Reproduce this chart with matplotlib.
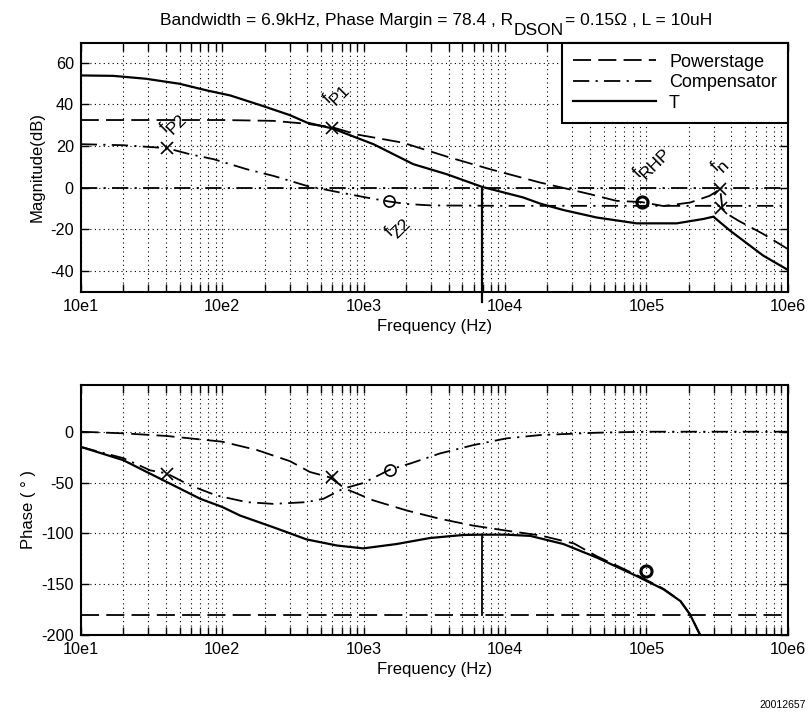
import numpy as np
import matplotlib
matplotlib.use("Agg")
import matplotlib.pyplot as plt
from matplotlib.ticker import LogLocator, NullFormatter
from matplotlib.transforms import offset_copy

plt.rcParams["font.family"] = ["Liberation Sans", "DejaVu Sans"]
plt.rcParams["axes.unicode_minus"] = False

# ---- magnitude (dB) ----
t_mag_freq = [10, 17, 29, 50, 78, 114, 185, 300, 400, 600, 1175, 2250, 3870, 6900,
              13500, 17700, 25900, 44600, 85400, 164000, 253000, 298000, 391000, 671000, 1000000]
t_mag = [53.8, 53.6, 52.2, 49.8, 46.6, 44.2, 39.6, 34.8, 31.1, 28.4, 20.8, 11.2, 6.4, 0.3,
         -4.8, -7.7, -10.8, -14.4, -17.2, -17.2, -15.1, -14.0, -20.7, -32.7, -39.5]

ps_mag_freq = [10, 100, 230, 396, 611, 890, 1900, 4070, 7850, 17700, 28300, 40000, 61500,
               92700, 132000, 204000, 280000, 333000, 345000, 391000, 450000, 671000, 1000000]
ps_mag = [32.4, 32.4, 32.0, 30.6, 28.8, 25.5, 21.5, 14.4, 8.8, 2.4, -0.8, -3.2, -6.4,
          -7.0, -8.9, -7.2, -4.0, -0.8, -10.0, -13.5, -16.0, -22.3, -29.5]

comp_mag_freq = [10, 20, 40.6, 59, 87, 149, 230, 302, 396, 682, 1047, 1510, 2020, 3000,
                 10000, 100000, 1000000]
comp_mag = [20.8, 20.3, 18.9, 16.0, 13.6, 8.8, 5.6, 3.2, 0.8, -2.4, -4.8, -6.7, -7.9, -8.6,
            -8.8, -8.8, -8.8]

# ---- phase (deg) ----
t_ph_freq = [10, 20, 40.6, 70, 100, 134, 230, 302, 396, 650, 995, 1715, 2950, 5080, 6900,
             10200, 15100, 25900, 44600, 85400, 132000, 174000, 204000, 240000]
t_ph = [-14.9, -28, -49.5, -66, -74, -82.5, -94, -100, -106, -112, -114.8, -110.5, -104.6,
        -101.6, -101.3, -101.3, -102.5, -110.5, -123.8, -142, -155, -166.6, -180, -200]

ps_ph_freq = [10, 20, 40.6, 100, 176, 302, 417, 579, 741, 1175, 2020, 3470, 5970, 10200,
              17700, 30800, 44600, 85400, 132000, 174000, 204000, 240000]
ps_ph = [0, -1.6, -4.2, -9.8, -18, -29, -39.6, -45, -56, -67.6, -77.5, -85.7, -92.4, -97.3,
         -102, -110, -122.5, -141, -154.5, -166.3, -179.8, -199.8]

comp_ph_freq = [10, 20, 31, 40.6, 59, 91, 149, 230, 396, 520, 720, 995, 1540, 2140, 3470,
                5970, 10200, 17700, 44600, 100000, 1000000]
comp_ph = [-15, -26, -38, -41, -52.7, -62.7, -69.3, -71, -69.3, -66, -56, -50.5, -37.2,
           -31.3, -21.4, -13.2, -6.6, -3.3, -1, 0, 0]

crossover = 6900
t_ph_cross = -101.3

# markers
mag_x_pts = [(40.6, 18.9), (600, 28.8), (333000, -0.6), (340000, -10.0)]
mag_o_pts = [(1510, -6.7), (93000, -6.8)]
ph_x_pts = [(40.6, -42), (600, -45)]
ph_o_pts = [(1540, -37.2), (100000, -137)]

mag_labels = [(43.5, 31.9, "P2"), (628, 45.8, "P1"), (1700, -18.3, "Z2"),
              (106000, 12.7, "RHP"), (321000, 11.3, "n")]

dec_ticks = [1e1, 1e2, 1e3, 1e4, 1e5, 1e6]
dec_labels = ["10e1", "10e2", "10e3", "10e4", "10e5", "10e6"]

DASH = (0, (10, 4))
DASHDOT = (0, (9, 3.5, 1.2, 3.5))

fig = plt.figure(figsize=(8.09, 7.17), dpi=100)
ax1 = fig.add_axes([0.0998, 0.5932, 0.8739, 0.3472])
ax2 = fig.add_axes([0.0998, 0.1144, 0.8739, 0.3487])
renderer = fig.canvas.get_renderer()


def text_width_pt(s, fs):
    t = fig.text(0, 0, s, fontsize=fs)
    w = t.get_window_extent(renderer).width * 72 / fig.dpi
    t.remove()
    return w


def sub_label(ax, x, y, main, sub, fs, drop=0.35):
    """rotated 45 deg label, subscript drawn at full size and lowered"""
    c, s = np.cos(np.pi / 4), np.sin(np.pi / 4)
    wm = text_width_pt(main, fs) * 0.75
    ws = text_width_pt(sub, fs)
    half = (wm + ws) / 2
    up = 0.25 * fs
    # baseline start so the block is centred on (x, y)
    x0 = -half * c + up * s
    y0 = -half * s - up * c
    d = drop * fs
    for txt, dx, dy in [(main, x0, y0),
                        (sub, x0 + wm * c + d * s, y0 + wm * s - d * c)]:
        tr = offset_copy(ax.transData, fig=fig, x=dx, y=dy, units="points")
        ax.text(x, y, txt, transform=tr, rotation=45, rotation_mode="anchor",
                ha="left", va="baseline", fontsize=fs)


def style_axis(ax):
    ax.set_xscale("log")
    ax.set_xlim(10, 1e6)
    ax.set_xticks(dec_ticks)
    ax.set_xticklabels(dec_labels)
    ax.xaxis.set_minor_locator(LogLocator(base=10, subs=np.arange(2, 10), numticks=20))
    ax.xaxis.set_minor_formatter(NullFormatter())
    ax.tick_params(which="both", direction="in", top=True, right=True, length=6,
                   width=1, labelsize=11.7, pad=5)
    ax.grid(True, which="major", color="black", linestyle=(0, (1, 3)), linewidth=0.8)
    ax.grid(True, which="minor", axis="x", color="black", linestyle=(0, (1, 3)), linewidth=0.8)
    for sp in ax.spines.values():
        sp.set_linewidth(1.5)
    ax.set_xlabel("Frequency (Hz)", fontsize=12, labelpad=4)


# ---- top: magnitude ----
ax1.plot(ps_mag_freq, ps_mag, color="black", lw=1.3, linestyle=DASH, label="Powerstage")
ax1.plot(comp_mag_freq, comp_mag, color="black", lw=1.3, linestyle=DASHDOT, label="Compensator")
ax1.plot(t_mag_freq, t_mag, color="black", lw=1.6, linestyle="-", label="T")
ax1.axhline(0, color="black", lw=1.3, linestyle=DASHDOT)
ax1.plot([crossover, crossover], [0, -55], color="black", lw=1.6, clip_on=False)
for f, v in mag_x_pts:
    ax1.plot(f, v, marker="x", ms=9, mew=1.2, color="black")
ax1.plot(mag_o_pts[0][0], mag_o_pts[0][1], marker="o", ms=8, mfc="none", mew=1.2, color="black")
ax1.plot(mag_o_pts[1][0], mag_o_pts[1][1], marker="o", ms=8, mfc="none", mew=2.2, color="black")
ax1.set_ylim(-50, 69.5)
ax1.set_yticks([-40, -20, 0, 20, 40, 60])
style_axis(ax1)
ax1.set_ylabel("Magnitude(dB)", fontsize=12, labelpad=4)
for f, v, sub in mag_labels:
    sub_label(ax1, f, v, "f", sub, 12.5)
leg = ax1.legend(loc="upper right", bbox_to_anchor=(1, 1), borderaxespad=0, fancybox=False,
                 framealpha=1, edgecolor="black", fontsize=13, handlelength=4.6,
                 handletextpad=0.7, labelspacing=0.2, borderpad=0.6)
leg.get_frame().set_linewidth(1.5)

# title with full-size, lowered subscript
title_fs = 12.5
pieces = [("Bandwidth = 6.9kHz, Phase Margin = 78.4 , R", 0),
          ("DSON", -0.55 * title_fs),
          ("= 0.15Ω , L = 10uH", 0)]
widths = [text_width_pt(p, title_fs) for p, _ in pieces]
widths[1] += 1.0
cx = 436 / 809
base_y = 1 - 25 / 717
xoff = -sum(widths) / 2
for (p, dy), w in zip(pieces, widths):
    tr = offset_copy(fig.transFigure, fig=fig, x=xoff, y=dy, units="points")
    fig.text(cx, base_y, p, transform=tr, fontsize=title_fs, ha="left", va="baseline")
    xoff += w

# ---- bottom: phase ----
ax2.plot(ps_ph_freq, ps_ph, color="black", lw=1.3, linestyle=DASH)
ax2.plot(comp_ph_freq, comp_ph, color="black", lw=1.3, linestyle=DASHDOT)
ax2.plot(t_ph_freq, t_ph, color="black", lw=1.6, linestyle="-")
ax2.axhline(-180, color="black", lw=1.3, linestyle=DASH)
ax2.plot([crossover, crossover], [t_ph_cross, -180], color="black", lw=1.3)
for f, v in ph_x_pts:
    ax2.plot(f, v, marker="x", ms=9, mew=1.2, color="black")
ax2.plot(ph_o_pts[0][0], ph_o_pts[0][1], marker="o", ms=8, mfc="none", mew=1.2, color="black")
ax2.plot(ph_o_pts[1][0], ph_o_pts[1][1], marker="o", ms=8, mfc="none", mew=2.2, color="black")
ax2.set_ylim(-200, 46)
ax2.set_yticks([-200, -150, -100, -50, 0])
style_axis(ax2)
ax2.set_ylabel("Phase ( ° )", fontsize=12, labelpad=4)

fig.text(806 / 809, 1 - 705 / 717, "20012657", fontsize=7.5, ha="right", va="center")

fig.savefig("out.png", dpi=100)
